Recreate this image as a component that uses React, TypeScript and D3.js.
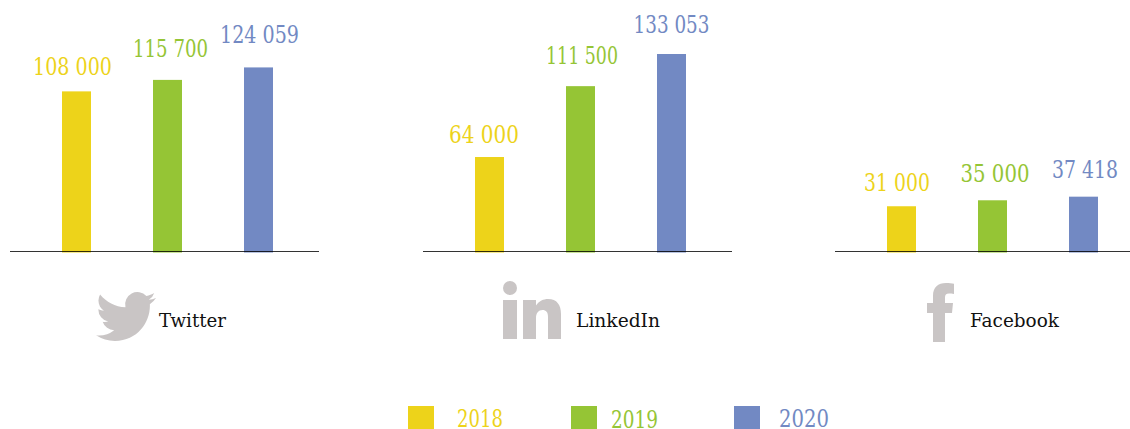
import React from "react";
import * as d3 from "d3";

const platforms = ["Twitter", "LinkedIn", "Facebook"];
const years = ["2018", "2019", "2020"];
const twitterValues = [108000, 115700, 124059];
const linkedinValues = [64000, 111500, 133053];
const facebookValues = [31000, 35000, 37418];
const valueLabels = [
  ["108 000", "115 700", "124 059"],
  ["64 000", "111 500", "133 053"],
  ["31 000", "35 000", "37 418"],
];
const yearColors = ["#EDD31A", "#95C535", "#7289C3"];

const W = 1130;
const H = 429;
const FONT = "'DejaVu Serif', serif";
const values = [twitterValues, linkedinValues, facebookValues];

const y = d3.scaleLinear().domain([0, 133053]).range([252.5, 54]);
const panelLeft = d3.scaleOrdinal<string, number>().domain(platforms).range([10, 423, 835]);
const panelWidth = 309;
const x = d3.scaleBand().domain(years).range([52, 263]).paddingInner(62 / 91).paddingOuter(0);
const legendX = d3.scalePoint().domain(years).range([408, 734]);

// hand placement of labels: [centre x relative to bar centre, baseline above bar top]
const labelOffsets = [
  [[-4, 16], [3, 23], [1, 24]],
  [[-5.5, 14], [1.5, 22], [0, 21]],
  [[-4.5, 15], [2.5, 18], [1.5, 19]],
];
const labelWidths = [[79, 75, 79], [70, 72, 76], [66, 69, 66]];
const legendTextX = [457, 611, 779];
const legendTextW = [46, 47, 50];
const legendTextY = [427, 428, 427];

const BIRD =
  "M23.953 4.57a10 10 0 01-2.825.775 4.958 4.958 0 002.163-2.723c-.951.555-2.005.959-3.127 1.184a4.92 4.92 0 00-8.384 4.482C7.69 8.095 4.067 6.13 1.64 3.162a4.822 4.822 0 00-.666 2.475c0 1.71.87 3.213 2.188 4.096a4.904 4.904 0 01-2.228-.616v.06a4.923 4.923 0 003.946 4.827 4.996 4.996 0 01-2.212.085 4.936 4.936 0 004.604 3.417 9.867 9.867 0 01-6.102 2.105c-.39 0-.779-.023-1.17-.067a13.995 13.995 0 007.557 2.209c9.053 0 13.998-7.496 13.998-13.985 0-.21 0-.42-.015-.63A9.935 9.935 0 0024 4.59z";
const ICON = "#C9C5C5";

function Icons() {
  return (
    <g fill={ICON}>
      <path d={BIRD} transform="translate(96 286.500) scale(2.5)" />
      <circle cx={510} cy={288} r={7} />
      <path d="M503 300H517V339H503Z" />
      <path d="M523 300H536V305.5C539 301 543.5 299 548 299C557 299 561 305 561 314V339H548V317C548 312 546 310 542.5 310C538.5 310 536 313 536 318V339H523Z" />
      <path d="M933 342V313H927V303H933V296C933 287 938 283 946 283C949 283 952 283.300 954 283.700V294C952 293.700 950.500 293.600 949 293.600C946 293.600 945 295 945 297.500V303H953L952 313H945V342Z" />
    </g>
  );
}

export default function App() {
  return (
    <svg
      width={W}
      height={H}
      viewBox={`0 0 ${W} ${H}`}
      style={{ position: "absolute", left: 0, top: 0, background: "#fff" }}
    >
      {platforms.map((p, i) => {
        const left = panelLeft(p);
        return (
          <g key={p}>
            {values[i].map((v, j) => {
              const bx = left + x(years[j])!;
              const cx = bx + x.bandwidth() / 2;
              return (
                <g key={years[j]}>
                  <rect x={bx} y={y(v)} width={x.bandwidth()} height={y(0) - y(v)} fill={yearColors[j]} />
                  <text
                    x={cx + labelOffsets[i][j][0]}
                    y={y(v) - labelOffsets[i][j][1]}
                    textAnchor="middle"
                    fontFamily={FONT}
                    fontSize={24}
                    fill={yearColors[j]}
                    textLength={labelWidths[i][j]}
                    lengthAdjust="spacingAndGlyphs"
                  >
                    {valueLabels[i][j]}
                  </text>
                </g>
              );
            })}
            <line x1={left} x2={left + panelWidth} y1={251.5} y2={251.5} stroke="#000" strokeOpacity={0.8} strokeWidth={1} />
          </g>
        );
      })}
      <Icons />
      {platforms.map((p, i) => (
        <text
          key={p}
          x={[159, 576, 970][i]}
          y={326.5}
          fontFamily={FONT}
          fontSize={19}
          fill="#111"
          textLength={[67, 84, 89][i]}
          lengthAdjust="spacingAndGlyphs"
        >
          {p}
        </text>
      ))}
      {years.map((yr, j) => (
        <g key={yr}>
          <rect x={legendX(yr)} y={406} width={26} height={23} fill={yearColors[j]} />
          <text
            x={legendTextX[j]}
            y={legendTextY[j]}
            fontFamily={FONT}
            fontSize={24}
            fill={yearColors[j]}
            textLength={legendTextW[j]}
            lengthAdjust="spacingAndGlyphs"
          >
            {yr}
          </text>
        </g>
      ))}
    </svg>
  );
}
